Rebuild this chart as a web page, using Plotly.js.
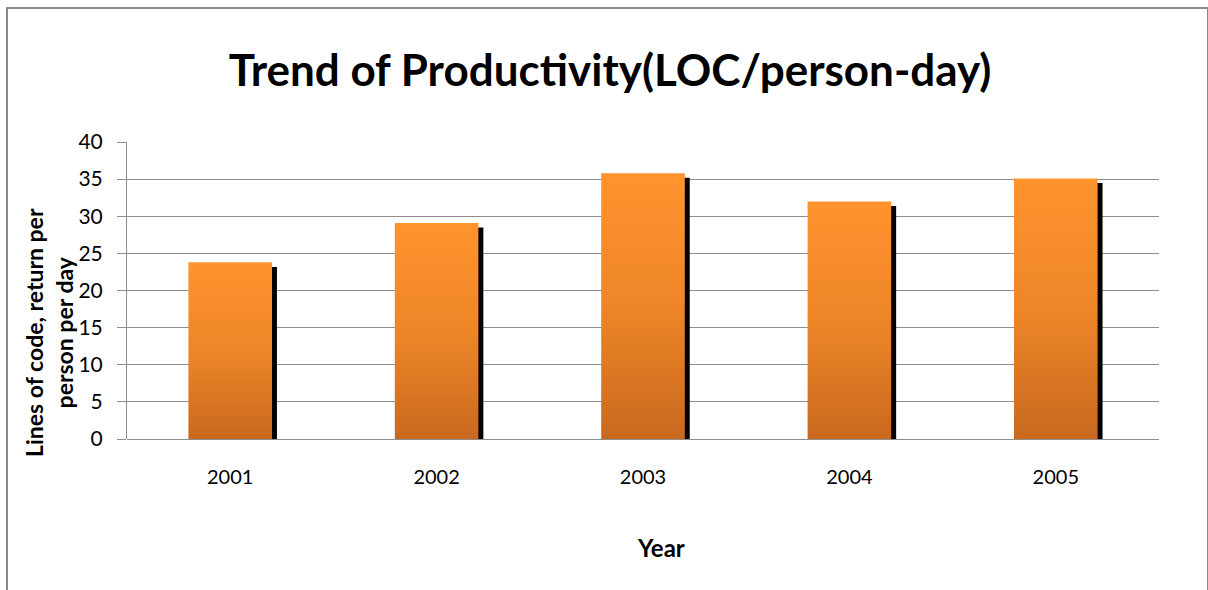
<!DOCTYPE html>
<html>
<head>
<meta charset="utf-8">
<script src="https://cdn.plot.ly/plotly-3.0.1.min.js"></script>
<style>
  html, body { margin: 0; padding: 0; background: #fff; overflow: hidden; }
  #wrap { position: relative; width: 1208px; height: 590px; }
  #chart { position: absolute; left: 0; top: 0; width: 1208px; height: 590px; }
  #frame { position: absolute; left: 6px; top: 7px; width: 1199px; height: 620px;
           border: 2px solid #8a8a8a; pointer-events: none; }
</style>
</head>
<body>
<div id="wrap">
  <div id="chart"></div>
  <div id="frame"></div>
</div>
<script>
const years = ['2001', '2002', '2003', '2004', '2005'];
const productivity = [23.8, 29.1, 35.8, 32.0, 35.1];
const yTicks = [0, 5, 10, 15, 20, 25, 30, 35, 40];

const FONT = 'Lato, Liberation Sans, Arial, sans-serif';
const barWidth = 0.405;
const shadowShiftX = 0.024;
const shadowDrop = 0.63;

const shadow = {
  type: 'bar', x: years, y: productivity,
  base: -shadowDrop,
  width: barWidth, offset: -barWidth / 2 + shadowShiftX,
  marker: { color: '#000000', line: { width: 0 } },
  hoverinfo: 'skip', showlegend: false
};
const bars = {
  type: 'bar', x: years, y: productivity,
  width: barWidth, offset: -barWidth / 2,
  marker: { color: '#F5902D', line: { width: 0 } },
  showlegend: false
};

const layout = {
  width: 1208, height: 590,
  margin: { l: 127, r: 49, t: 141.5, b: 150.7, pad: 0 },
  paper_bgcolor: '#ffffff', plot_bgcolor: '#ffffff',
  barmode: 'overlay',
  showlegend: false,
  font: { family: FONT, color: '#000000' },
  title: {
    text: '<b>Trend of Productivity(LOC/person-day)</b>',
    font: { family: FONT, size: 44, color: '#000000' },
    x: 0.505, xref: 'container', xanchor: 'center',
    y: 1 - 71 / 590, yref: 'container', yanchor: 'middle'
  },
  xaxis: {
    type: 'category',
    showgrid: false, zeroline: false,
    showline: false,
    ticks: '',
    tickfont: { family: FONT, size: 20, color: '#000000' },
    ticklabelstandoff: 24
  },
  yaxis: {
    range: [0, 40],
    tickvals: yTicks,
    ticktext: yTicks.map(String),
    showgrid: true, gridcolor: '#8e8e8e', gridwidth: 1,
    zeroline: true, zerolinecolor: '#8e8e8e', zerolinewidth: 1,
    showline: true, linecolor: '#8e8e8e', linewidth: 1,
    ticks: 'outside', ticklen: 9, tickcolor: '#8e8e8e', tickwidth: 1,
    tickfont: { family: FONT, size: 21, color: '#000000' },
    ticklabelstandoff: 10
  },
  annotations: [
    {
      text: '<b>Lines of code, return per<br>person per day</b>',
      xref: 'paper', yref: 'paper',
      x: (49 - 127) / 1032, y: (439.3 - 333) / 297.8,
      xanchor: 'center', yanchor: 'middle',
      textangle: -90, showarrow: false,
      font: { family: FONT, size: 23, color: '#000000' },
      align: 'center'
    },
    {
      text: '<b>Year</b>',
      xref: 'paper', yref: 'paper',
      x: (661 - 127) / 1032, y: -(548 - 439.3) / 297.8,
      xanchor: 'center', yanchor: 'middle',
      showarrow: false,
      font: { family: FONT, size: 24, color: '#000000' }
    }
  ]
};

Plotly.newPlot('chart', [shadow, bars], layout, { displayModeBar: false, staticPlot: true }).then(function (gd) {
  const svg = gd.querySelector('svg.main-svg');
  const ns = 'http://www.w3.org/2000/svg';
  let defs = svg.querySelector('defs');
  if (!defs) { defs = document.createElementNS(ns, 'defs'); svg.insertBefore(defs, svg.firstChild); }
  const grad = document.createElementNS(ns, 'linearGradient');
  grad.setAttribute('id', 'barGrad');
  grad.setAttribute('x1', '0'); grad.setAttribute('y1', '0');
  grad.setAttribute('x2', '0'); grad.setAttribute('y2', '1');
  [['0', '#FF932E'], ['0.5', '#EE8628'], ['1', '#C9691F']].forEach(function (s) {
    const st = document.createElementNS(ns, 'stop');
    st.setAttribute('offset', s[0]); st.setAttribute('stop-color', s[1]);
    grad.appendChild(st);
  });
  defs.appendChild(grad);
  const traces = gd.querySelectorAll('g.trace.bars');
  if (traces.length > 1) {
    traces[1].querySelectorAll('path').forEach(function (p) {
      p.style.fill = 'url(#barGrad)';
    });
  }
});
</script>
</body>
</html>
